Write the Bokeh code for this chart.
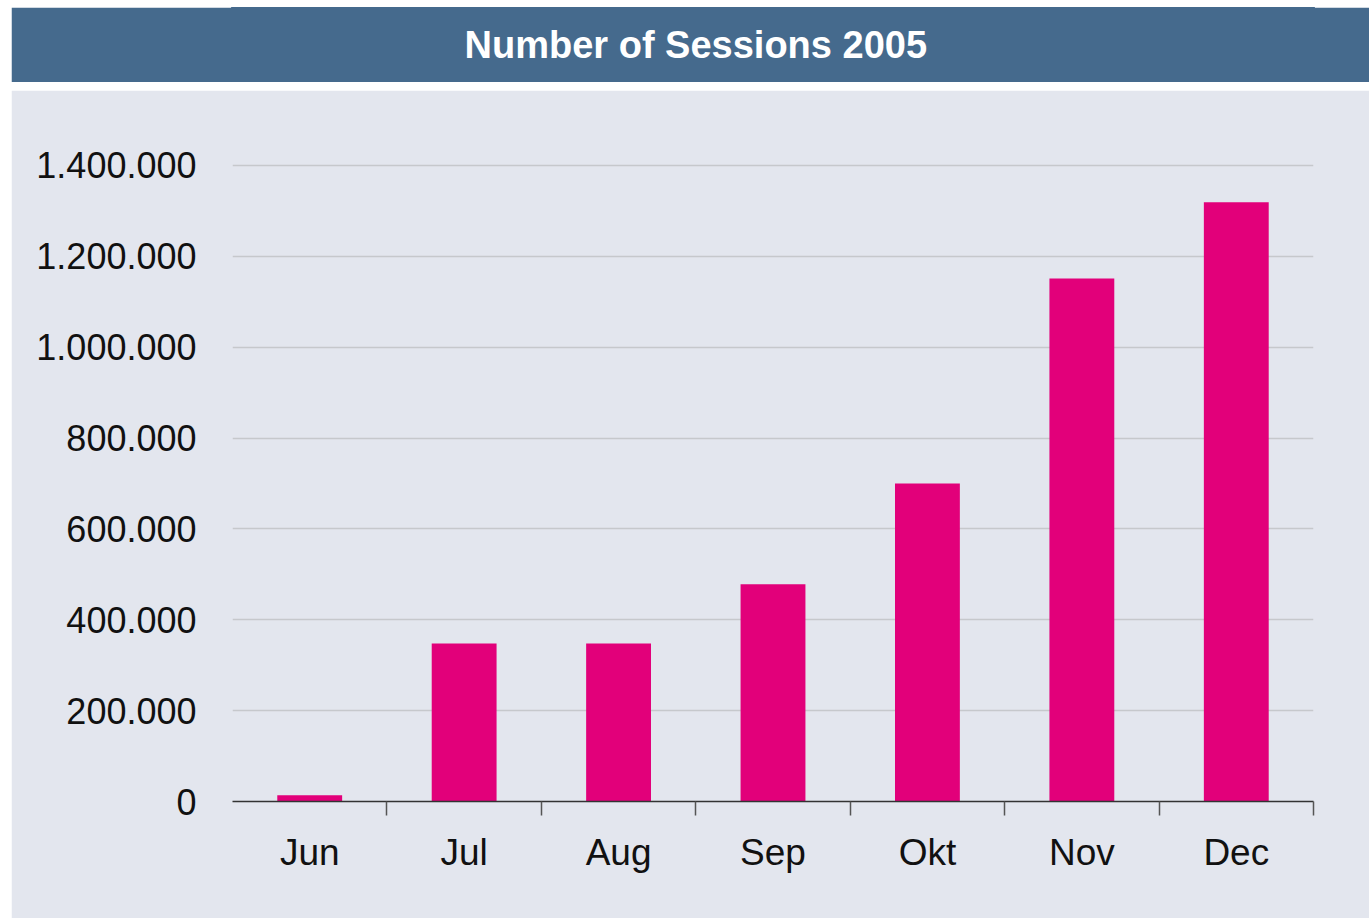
from bokeh.plotting import figure
from bokeh.models import ColumnDataSource, FixedTicker, Range1d, Label
from bokeh.layouts import column
from bokeh.embed import file_html
from bokeh.resources import INLINE

# ---- data ----
months = ["Jun", "Jul", "Aug", "Sep", "Okt", "Nov", "Dec"]
sessions = [14000, 348000, 348000, 478000, 700000, 1151000, 1319000]
y_ticks = [0, 200000, 400000, 600000, 800000, 1000000, 1200000, 1400000]
y_tick_labels = ["0", "200.000", "400.000", "600.000", "800.000",
                 "1.000.000", "1.200.000", "1.400.000"]
title_text = "Number of Sessions 2005"

# ---- styles ----
BAR = "#e2007a"
PANEL = "#e3e6ee"
HEADER = "#456a8d"
FONT = "Liberation Sans"

n = len(months)
centers = [i + 0.5 for i in range(n)]
bounds = [float(i + 1) for i in range(n)]

# header strip (its frame is aligned with the chart frame by the column)
t = figure(width=1358, height=75, x_range=Range1d(0, n), y_range=Range1d(0, 1),
           output_backend="svg", toolbar_location=None,
           min_border=0, min_border_left=0, min_border_right=0,
           min_border_top=0, min_border_bottom=0)
t.axis.visible = False
t.grid.visible = False
t.outline_line_color = HEADER
t.outline_line_width = 3
t.background_fill_color = HEADER
t.border_fill_color = HEADER
t.add_layout(Label(x=n / 2 - 0.5, y=0.5, text=title_text, text_align="center",
                   text_baseline="middle", text_color="white",
                   text_font=FONT, text_font_style="bold",
                   text_font_size="38px"))

# main chart
src = ColumnDataSource(dict(x=centers, sessions=sessions, month=months))
p = figure(width=1358, height=828, x_range=Range1d(0, n),
           y_range=Range1d(0, 1479000),
           output_backend="svg", toolbar_location=None,
           min_border_left=221, min_border_right=56,
           min_border_top=39, min_border_bottom=117)
p.background_fill_color = PANEL
p.border_fill_color = PANEL
p.outline_line_color = PANEL
p.outline_line_width = 3

p.vbar(x="x", top="sessions", width=0.42, source=src,
       fill_color=BAR, line_color=None)

# x axis
xa = p.xaxis[0]
xa.ticker = FixedTicker(ticks=centers, minor_ticks=bounds)
xa.major_label_overrides = {c: m for c, m in zip(centers, months)}
xa.major_tick_line_color = None
xa.major_tick_out = 0
xa.major_tick_in = 0
xa.minor_tick_line_color = "#555555"
xa.minor_tick_line_width = 1.5
xa.minor_tick_out = 14
xa.minor_tick_in = 0
xa.axis_line_color = "#333333"
xa.axis_line_width = 1.5
xa.major_label_text_font = FONT
xa.major_label_text_font_size = "37px"
xa.major_label_text_color = "#111111"
xa.major_label_standoff = 16

# y axis
ya = p.yaxis[0]
ya.ticker = FixedTicker(ticks=y_ticks)
ya.major_label_overrides = {v: s for v, s in zip(y_ticks, y_tick_labels)}
ya.axis_line_color = None
ya.major_tick_line_color = None
ya.minor_tick_line_color = None
ya.major_tick_out = 0
ya.major_tick_in = 0
ya.major_label_text_font = FONT
ya.major_label_text_font_size = "36px"
ya.major_label_text_color = "#111111"
ya.major_label_standoff = 36

p.xgrid.visible = False
p.ygrid.ticker = FixedTicker(ticks=y_ticks)
p.ygrid.grid_line_color = "#c6c8cc"
p.ygrid.grid_line_width = 1.5

layout = column(t, p, spacing=8, margin=(7, 0, 0, 11))

open("out.html", "w").write(file_html(layout, INLINE))
